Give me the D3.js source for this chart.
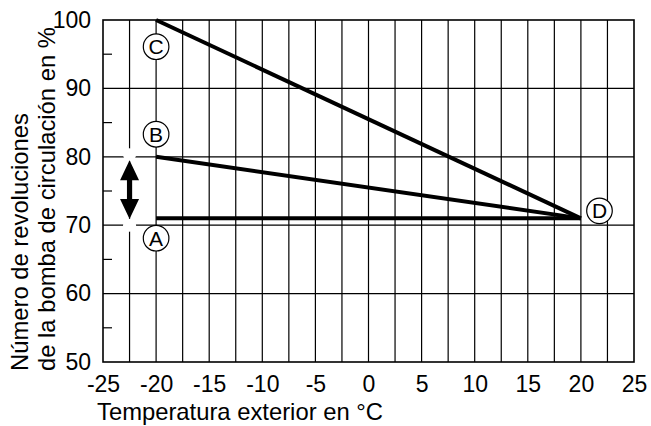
<!DOCTYPE html>
<html>
<head>
<meta charset="utf-8">
<script src="https://cdn.jsdelivr.net/npm/d3@7"></script>
<style>
    body { margin: 0; background: #fff; }
    svg { display: block; font-family: "Liberation Sans", Arial, sans-serif; }
</style>
</head>
<body>
<svg id="chart" width="651" height="426"></svg>
<script>
// axis ticks
const xTicks = [-25, -20, -15, -10, -5, 0, 5, 10, 15, 20, 25];
const xGrid = [-22.5, -20, -17.5, -15, -12.5, -10, -7.5, -5, -2.5, 0, 2.5, 5, 7.5, 10, 12.5, 15, 17.5, 20, 22.5];
const yTicks = [50, 60, 70, 80, 90, 100];
const yGrid = [60, 70, 80, 90];
const yMinor = [55, 65, 75, 85, 95];

// curves: outside temperature -> pump speed %
const temps = [-20, 20];
const curveA = [71, 71];
const curveB = [80, 71];
const curveC = [100, 71];

// circled labels
const labelNames = ["A", "B", "C", "D"];
const labelTemps = [-20, -20, -20, 21.75];
const labelSpeeds = [68.1, 83.3, 96.1, 72.1];

// adjustment arrow between A and B
const arrowTemp = -22.5;
const arrowSpeeds = [79.5, 70.9];
const arrowGaps = [80.3, 70];

const margin = {top: 20, right: 17, bottom: 64, left: 103};
const svg = d3.select("#chart");
const width = +svg.attr("width") - margin.left - margin.right;
const height = +svg.attr("height") - margin.top - margin.bottom;

const x = d3.scaleLinear().domain([-25, 25]).range([0, width]);
const y = d3.scaleLinear().domain([50, 100]).range([height, 0]);

const g = svg.append("g").attr("transform", "translate(" + margin.left + "," + margin.top + ")");

// grid
g.selectAll("line.vgrid")
    .data(xGrid)
    .enter().append("line")
    .attr("class", "vgrid")
    .attr("x1", (d) => x(d)).attr("x2", (d) => x(d))
    .attr("y1", 0).attr("y2", height)
    .attr("stroke", "#000").attr("stroke-width", 1.2);

g.selectAll("line.hgrid")
    .data(yGrid)
    .enter().append("line")
    .attr("class", "hgrid")
    .attr("x1", 0).attr("x2", width)
    .attr("y1", (d) => y(d)).attr("y2", (d) => y(d))
    .attr("stroke", "#000").attr("stroke-width", 1.2);

g.selectAll("line.minor")
    .data(yMinor)
    .enter().append("line")
    .attr("class", "minor")
    .attr("x1", 0).attr("x2", 9)
    .attr("y1", (d) => y(d)).attr("y2", (d) => y(d))
    .attr("stroke", "#000").attr("stroke-width", 1.2);

// white gaps where the arrow crosses the grid
g.selectAll("circle.gap")
    .data(arrowGaps)
    .enter().append("circle")
    .attr("class", "gap")
    .attr("cx", x(arrowTemp))
    .attr("cy", (d) => y(d))
    .attr("r", 6.5)
    .attr("fill", "#fff");

// frame
g.append("rect")
    .attr("width", width).attr("height", height)
    .attr("fill", "none").attr("stroke", "#000").attr("stroke-width", 1.6);

// axes
const xAxis = d3.axisBottom(x).tickValues(xTicks).tickSize(0).tickPadding(14)
    .tickFormat((d) => String(d));
const yAxis = d3.axisLeft(y).tickValues(yTicks).tickSize(0).tickPadding(12)
    .tickFormat((d) => String(d));

g.append("g")
    .attr("transform", "translate(0," + height + ")")
    .call(xAxis)
    .call((a) => a.select(".domain").remove())
    .selectAll("text")
    .attr("font-size", 23).attr("font-family", "Liberation Sans, Arial, sans-serif").attr("fill", "#000");

g.append("g")
    .call(yAxis)
    .call((a) => a.select(".domain").remove())
    .selectAll("text")
    .attr("font-size", 23).attr("font-family", "Liberation Sans, Arial, sans-serif").attr("fill", "#000");

// curves
const line = d3.line().x((d) => x(d[0])).y((d) => y(d[1]));
[curveA, curveB, curveC].forEach((curve) => {
    g.append("path")
        .datum(temps.map((t, i) => [t, curve[i]]))
        .attr("d", line)
        .attr("fill", "none")
        .attr("stroke", "#000")
        .attr("stroke-width", 4);
});

// double arrow
const ax = x(arrowTemp);
const arrowTop = y(arrowSpeeds[0]);
const arrowBot = y(arrowSpeeds[1]);
const headW = 9.5, headH = 20, shaft = 2.6;
const arrowPath = [
    [ax, arrowTop], [ax + headW, arrowTop + headH], [ax + shaft, arrowTop + headH],
    [ax + shaft, arrowBot - headH], [ax + headW, arrowBot - headH], [ax, arrowBot],
    [ax - headW, arrowBot - headH], [ax - shaft, arrowBot - headH],
    [ax - shaft, arrowTop + headH], [ax - headW, arrowTop + headH]
];
g.append("path")
    .attr("d", "M" + arrowPath.map((p) => p.join(",")).join("L") + "Z")
    .attr("fill", "#000");

// circled labels
const labels = g.selectAll("g.label")
    .data(labelNames)
    .enter().append("g")
    .attr("class", "label")
    .attr("transform", (d, i) => "translate(" + x(labelTemps[i]) + "," + y(labelSpeeds[i]) + ")");

labels.append("circle")
    .attr("r", 12.8)
    .attr("fill", "#fff")
    .attr("stroke", "#000")
    .attr("stroke-width", 1.2);

labels.append("text")
    .attr("text-anchor", "middle")
    .attr("dy", "0.36em")
    .attr("font-size", 21)
    .text((d) => d);

// axis titles
svg.append("text")
    .attr("x", 97)
    .attr("y", 420)
    .attr("font-size", 23.8)
    .text("Temperatura exterior en °C");

const yTitle = svg.append("text")
    .attr("transform", "translate(0,371) rotate(-90)")
    .attr("font-size", 23.8);
yTitle.append("tspan").attr("x", 0).attr("y", 28).text("Número de revoluciones");
yTitle.append("tspan").attr("x", 0).attr("y", 55).text("de la bomba de circulación en %");
</script>
</body>
</html>
